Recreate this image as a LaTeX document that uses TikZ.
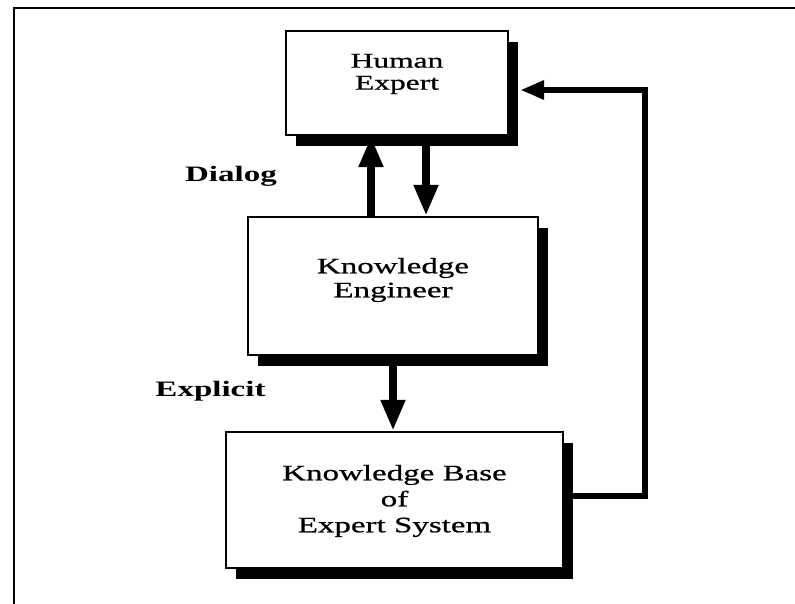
\documentclass[tikz,border=0pt]{standalone}
\usepackage{fontspec}
\setmainfont{Liberation Serif}[FakeStretch=1.5]
\newfontfamily\boxfont{Liberation Serif}[FakeStretch=1.5, FakeBold=0.8]
\usetikzlibrary{arrows.meta,shadows,calc}

\begin{document}
\begin{tikzpicture}[x=1pt,y=-1pt,
  box/.style={draw=black, line width=2.4pt, fill=white,
    drop shadow={shadow xshift=10pt, shadow yshift=-11pt, fill=black, opacity=1}},
  txt/.style={font=\boxfont\fontsize{22}{24}\selectfont, align=center, inner sep=0pt},
  lbl/.style={font=\bfseries\fontsize{22}{24}\selectfont, inner sep=0pt, anchor=base},
  flow/.style={line width=8pt, -{Triangle[length=31pt,width=23pt]}},
  back/.style={line width=6pt, -{Triangle[length=24pt,width=18pt]}},
]
\useasboundingbox (0,0) rectangle (795,604);
\begin{scope}
  \clip (0,0) rectangle (795,604);
  % outer frame
  \draw[line width=2.5pt] (14,640) -- (14,8) -- (830,8);
\end{scope}

% boxes
\node[box, minimum width=222, minimum height=104] (he) at (397,83) {};
\node[box, minimum width=290, minimum height=138] (ke) at (393,286) {};
\node[box, minimum width=337, minimum height=136] (kb) at (394.5,500) {};

% box texts
\node[txt, font=\boxfont\fontsize{21}{22}\selectfont] (het) at ($(he.center)+(0,-9)$) {Human\\Expert};
\node[txt] (ket) at ($(ke.center)+(0,-6)$) {Knowledge\\Engineer};
\node[txt, font=\boxfont\fontsize{22}{26}\selectfont] (kbt) at ($(kb.center)+(0,1)$) {Knowledge Base\\of\\Expert System};

% side labels
\node[lbl] (dialog) at (231,182) {Dialog};
\node[lbl] (explicit) at (210.5,396) {Explicit};

% dialog arrows
\draw[flow] ([xshift=-22pt]ke.north) -- ([xshift=-22pt]ke.north |- he.south);
\draw[flow] ([xshift=33pt]ke.north |- he.south) -- ([xshift=33pt]ke.north);

% explicit knowledge arrow
\draw[flow] (ke.south) -- (ke.south |- kb.north);

% feedback loop
\coordinate (fbstart) at ($(kb.east)+(0,-4)$);
\coordinate (fbtip) at ($(he.east)+(11,7)$);
\coordinate (fbcorner) at (645,90);
\draw[back] (fbstart) -| (fbcorner) -- (fbtip);
\end{tikzpicture}
\end{document}
